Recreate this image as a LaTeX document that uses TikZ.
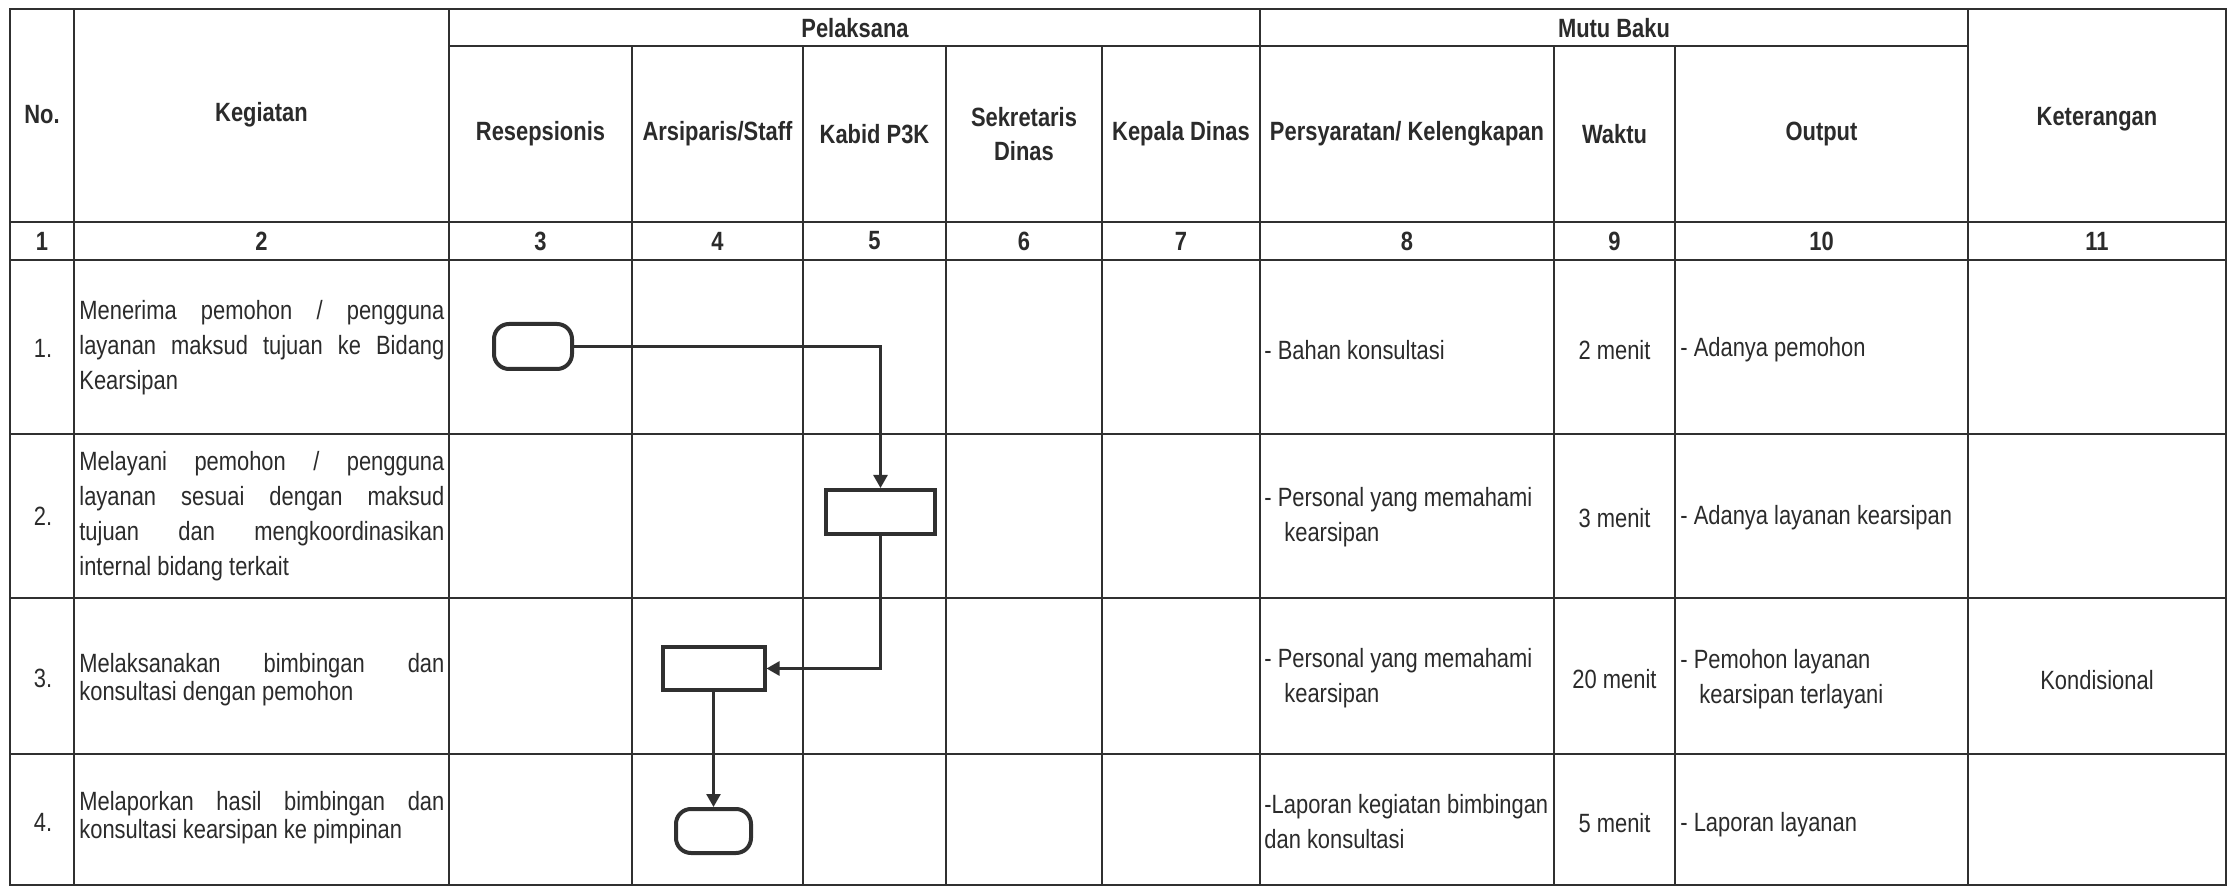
\documentclass[tikz,border=0pt]{standalone}
\usepackage{fontspec}
\setmainfont{Liberation Sans}[FakeStretch=0.83]
\usetikzlibrary{arrows.meta}
\definecolor{ink}{HTML}{2B2B2B}
\definecolor{rulec}{HTML}{303030}
\begin{document}
\begin{tikzpicture}[x=0.5pt,y=-0.5pt,
  tbl/.style={draw=rulec,line width=1pt,line cap=rect},
  hdr/.style={font=\bfseries\fontsize{13.2}{17}\selectfont,text=ink,align=center,inner sep=0pt},
  txt/.style={font=\fontsize{13.2}{17.5}\selectfont,text=ink,inner sep=0pt},
  tight/.style={font=\fontsize{13.2}{14}\selectfont},
  keg/.style={txt,text width=182.5pt,align=justify,anchor=west},
  lft/.style={txt,align=left,anchor=west},
  ctr/.style={txt,align=center},
  term/.style={draw=rulec,line width=2pt,rounded corners=7.5pt,inner sep=0pt,minimum height=22.5pt},
  proc/.style={draw=rulec,line width=2pt,inner sep=0pt,minimum height=22pt},
  conn/.style={draw=rulec,line width=1.3pt,-{Triangle[length=6.5pt,width=7pt]}}
]
\fill[white] (0,0) rectangle (2229,887);
\useasboundingbox (0,0) rectangle (2229,887);

% table rules
\foreach \y in {9,222,260,434,598,754,885} \draw[tbl] (10,\y) -- (2226,\y);
\draw[tbl] (449,46) -- (1968,46);
\foreach \x in {10,74,449,1260,1968,2226} \draw[tbl] (\x,9) -- (\x,885);
\foreach \x in {632,803,946,1102,1554,1675} \draw[tbl] (\x,46) -- (\x,885);

% header
\node[hdr] (hno)  at (42,115) {No.};
\node[hdr] (hkeg) at (261.5,115) {Kegiatan};
\node[hdr] (hpel) at (855,28) {Pelaksana};
\node[hdr] (hmut) at (1614,28) {Mutu Baku};
\node[hdr] (hket) at (2097,119) {Keterangan};
\node[hdr] (hres) at (540.5,134) {Resepsionis};
\node[hdr] (hars) at (717.5,134) {Arsiparis/Staff};
\node[hdr] (hkab) at (874.5,134) {Kabid P3K};
\node[hdr] (hsek) at (1024,134) {Sekretaris\\Dinas};
\node[hdr] (hkep) at (1181,134) {Kepala Dinas};
\node[hdr] (hper) at (1407,134) {Persyaratan/ Kelengkapan};
\node[hdr] (hwak) at (1614.5,134) {Waktu};
\node[hdr] (hout) at (1821.5,134) {Output};

% number row
\foreach \c/\n in {42/1,261.5/2,540.5/3,717.5/4,874.5/5,1024/6,1181/7,1407/8,1614.5/9,1821.5/10,2097/11}
  \node[hdr] (num\n) at (\c,241) {\n};

% row numbers
\node[ctr] (r1) at (43,348) {1.};
\node[ctr] (r2) at (43,516) {2.};
\node[ctr] (r3) at (43,678) {3.};
\node[ctr] (r4) at (43,822) {4.};

% kegiatan
\node[keg] (k1) at (79,348) {Menerima pemohon / pengguna\linebreak layanan maksud tujuan ke Bidang\linebreak Kearsipan};
\node[keg] (k2) at (79,516) {Melayani pemohon / pengguna\linebreak layanan sesuai dengan maksud\linebreak tujuan dan mengkoordinasikan\linebreak internal bidang terkait};
\node[keg,tight] (k3) at (79,680) {Melaksanakan bimbingan dan\linebreak konsultasi dengan pemohon};
\node[keg,tight] (k4) at (79,818) {Melaporkan hasil bimbingan dan\linebreak konsultasi kearsipan ke pimpinan};

% persyaratan
\node[lft] (p1) at (1264,350) {- Bahan konsultasi};
\node[lft] (p2) at (1264,517.5) {- Personal yang memahami\\\hspace*{10pt}kearsipan};
\node[lft] (p3) at (1264,678) {- Personal yang memahami\\\hspace*{10pt}kearsipan};
\node[lft] (p4) at (1264,822) {-Laporan kegiatan bimbingan\\dan konsultasi};

% waktu
\node[ctr] (w1) at (1614.5,350) {2 menit};
\node[ctr] (w2) at (1614.5,518) {3 menit};
\node[ctr] (w3) at (1614.5,679) {20 menit};
\node[ctr] (w4) at (1614.5,823) {5 menit};

% output
\node[lft] (o1) at (1680,350) {- Adanya pemohon};
\node[lft] (o2) at (1680,518) {- Adanya layanan kearsipan};
\node[lft] (o3) at (1680,679) {- Pemohon layanan\\\hspace*{9.5pt}kearsipan terlayani};
\node[lft] (o4) at (1680,825) {- Laporan layanan};

% keterangan
\node[ctr] (kt3) at (2097,680) {Kondisional};

% flow
\node[term,minimum width=39pt] (t1) at (533,346.5) {};
\node[proc,minimum width=54.5pt] (b2) at (880.5,512) {};
\node[proc,minimum width=51pt,minimum height=21.5pt] (b3) at (713.5,668.5) {};
\node[term,minimum width=37.5pt,minimum height=22pt] (t2) at (713.5,831) {};

\draw[conn] (t1.east) -| (b2.north);
\draw[conn] (b2.south) |- (b3.east);
\draw[conn] (b3.south) -- (t2.north);
\end{tikzpicture}
\end{document}
